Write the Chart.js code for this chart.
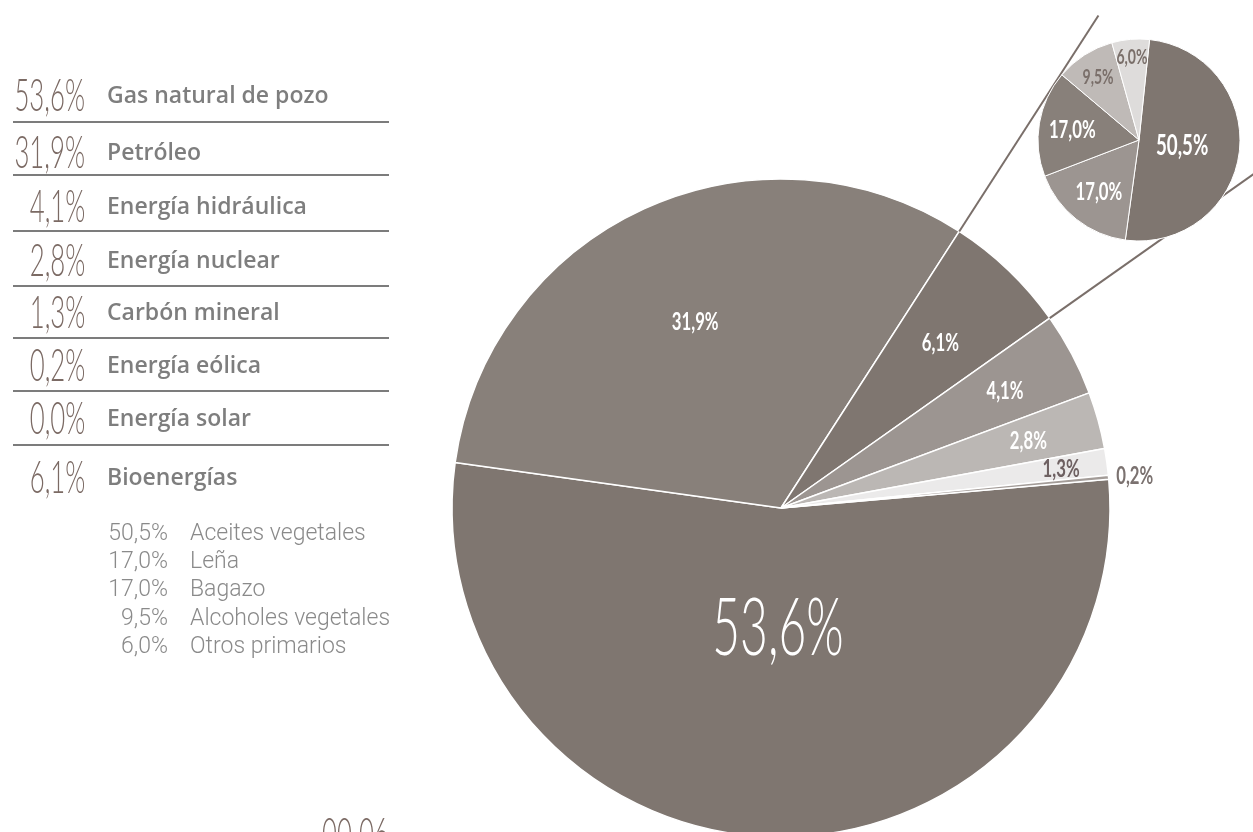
<!DOCTYPE html>
<html><head><meta charset="utf-8">
<script src="https://cdn.jsdelivr.net/npm/chart.js@4.4.1/dist/chart.umd.min.js"></script>
<style>
html,body{margin:0;padding:0;width:1253px;height:832px;overflow:hidden;background:#fff;}
#main{position:absolute;left:0;top:0;}
#inset{position:absolute;left:1028px;top:29px;}
.t{position:absolute;white-space:nowrap;line-height:1;}
.t span{display:inline-block;}
.sep{position:absolute;height:2px;background:#7c7c7c;}
</style></head><body>
<canvas id="main" width="1253" height="860"></canvas>
<canvas id="inset" width="222" height="222"></canvas>
<div id="legend"></div>
<script>
// ---------- data ----------
const pieLabels = ['Gas natural de pozo','Petróleo','Bioenergías','Energía hidráulica','Energía nuclear','Carbón mineral','Energía eólica','Energía solar'];
const pieValues = [53.6, 31.9, 6.1, 4.1, 2.8, 1.3, 0.2, 0.0];
const legendOrder = [0, 1, 3, 4, 5, 6, 7, 2];
const bioLabels = ['Aceites vegetales','Leña','Bagazo','Alcoholes vegetales','Otros primarios'];
const bioValues = [50.5, 17.0, 17.0, 9.5, 6.0];
const pageText = '00 06';

// ---------- style ----------
const pieColors = ['#7f7670','#88807a','#7f7670','#9c9591','#bbb7b4','#ebeaea','#a39c98','#d8d5d3'];
const bioColors = ['#7f7670','#9c9591','#88807a','#bfbab7','#dedcdb'];
const pieLabelRadius = [0.36, 0.626, 0.70, 0.77, 0.78, 0.86, 1.08, null];
const pieLabelColor = ['#ffffff','#ffffff','#ffffff','#ffffff','#ffffff','#6e6162','#7b7270',null];
const pieLabelSize = [80, 25, 25, 25, 25, 25, 25, 25];
const bioLabelRadius = [0.43, 0.64, 0.67, 0.75, 0.83];
const bioLabelColor = ['#ffffff','#ffffff','#ffffff','#7a6f6a','#7a6f6a'];
const bioLabelSize = [28, 25, 25, 21, 21];
const extLengths = [586, 720];

const fmt = v => v.toFixed(1).replace('.', ',') + '%';

function drawText(ctx, text, x, y, size, weight, color, sx) {
  ctx.save();
  ctx.translate(x, y + size * 0.36);
  ctx.scale(sx, 1);
  ctx.font = weight + ' ' + size + 'px Lato';
  ctx.fillStyle = color;
  ctx.textAlign = 'center';
  ctx.textBaseline = 'alphabetic';
  ctx.fillText(text, 0, 0);
  ctx.restore();
}

function labelPlugin(values, radius, colors, sizes) {
  return {
    id: 'sliceLabels',
    afterDatasetsDraw(chart) {
      const ctx = chart.ctx;
      chart.getDatasetMeta(0).data.forEach((arc, i) => {
        if (radius[i] == null) return;
        const mid = (arc.startAngle + arc.endAngle) / 2;
        const r = arc.outerRadius * radius[i];
        const x = arc.x + Math.cos(mid) * r;
        const y = arc.y + Math.sin(mid) * r;
        const big = sizes[i] > 50;
        drawText(ctx, fmt(values[i]), x, y, sizes[i], big ? 300 : 700, colors[i], big ? 0.6 : 0.67);
      });
    }
  };
}

const extPlugin = {
  id: 'extLines',
  afterDatasetsDraw(chart) {
    const ctx = chart.ctx;
    const arc = chart.getDatasetMeta(0).data[2];
    ctx.save();
    ctx.strokeStyle = '#7a6f6a';
    ctx.lineWidth = 2;
    [arc.startAngle, arc.endAngle].forEach((a, k) => {
      ctx.beginPath();
      ctx.moveTo(arc.x + Math.cos(a) * arc.outerRadius, arc.y + Math.sin(a) * arc.outerRadius);
      ctx.lineTo(arc.x + Math.cos(a) * extLengths[k], arc.y + Math.sin(a) * extLengths[k]);
      ctx.stroke();
    });
    ctx.restore();
  }
};

new Chart(document.getElementById('main'), {
  type: 'pie',
  data: { labels: pieLabels, datasets: [{ data: pieValues, backgroundColor: pieColors, borderColor: '#ffffff', borderWidth: 1.5 }] },
  options: {
    responsive: false, animation: false, events: [],
    rotation: 85, radius: 329,
    layout: { padding: { left: 452, right: 143, top: 179, bottom: 23 } },
    plugins: { legend: { display: false }, tooltip: { enabled: false } }
  },
  plugins: [extPlugin, labelPlugin(pieValues, pieLabelRadius, pieLabelColor, pieLabelSize)]
});

new Chart(document.getElementById('inset'), {
  type: 'pie',
  data: { labels: bioLabels, datasets: [{ data: bioValues, backgroundColor: bioColors, borderColor: '#ffffff', borderWidth: 1 }] },
  options: {
    responsive: false, animation: false, events: [],
    rotation: 6, radius: 101,
    layout: { padding: 10 },
    plugins: { legend: { display: false }, tooltip: { enabled: false } }
  },
  plugins: [labelPlugin(bioValues, bioLabelRadius, bioLabelColor, bioLabelSize)]
});

// ---------- HTML legend ----------
const legend = document.getElementById('legend');
function placeText(text, o) {
  const d = document.createElement('div');
  d.className = 't';
  const s = document.createElement('span');
  s.textContent = text;
  s.style.fontFamily = o.family;
  s.style.fontWeight = o.weight;
  s.style.fontSize = o.size + 'px';
  s.style.color = o.color;
  if (o.sx) { s.style.transform = 'scaleX(' + o.sx + ')'; s.style.transformOrigin = o.align === 'right' ? 'right center' : 'left center'; }
  d.appendChild(s);
  d.style.top = (o.y - o.size * o.c) + 'px';
  if (o.align === 'right') { d.style.right = (1253 - o.x) + 'px'; d.style.textAlign = 'right'; }
  else d.style.left = o.x + 'px';
  legend.appendChild(d);
}
const rowY = [95, 152, 206, 260, 312, 365, 418, 477];
const sepY = [121, 174, 230, 285, 337, 390, 444];
legendOrder.forEach((idx, r) => {
  placeText(fmt(pieValues[idx]), { x: 85, y: rowY[r], align: 'right', family: 'Lato', weight: 300, size: 46, color: '#7b6a64', sx: 0.56, c: 0.53 });
  placeText(pieLabels[idx], { x: 107, y: rowY[r], align: 'left', family: 'Open Sans', weight: 600, size: 23, color: '#7e7e7e', c: 0.53 });
});
sepY.forEach(y => {
  const d = document.createElement('div');
  d.className = 'sep';
  d.style.left = '13px'; d.style.width = '376px'; d.style.top = y + 'px';
  legend.appendChild(d);
});
const subY = [532, 560, 588, 617, 645];
bioLabels.forEach((lab, i) => {
  placeText(fmt(bioValues[i]), { x: 168, y: subY[i], align: 'right', family: 'Roboto', weight: 300, size: 23, color: '#8a8a8a', c: 0.49 });
  placeText(lab, { x: 190, y: subY[i], align: 'left', family: 'Roboto', weight: 300, size: 23, color: '#8a8a8a', c: 0.49 });
});
placeText(pageText, { x: 322, y: 834, align: 'left', family: 'Lato', weight: 300, size: 46, color: '#7b6a64', sx: 0.56, c: 0.53 });
</script>
</body></html>
